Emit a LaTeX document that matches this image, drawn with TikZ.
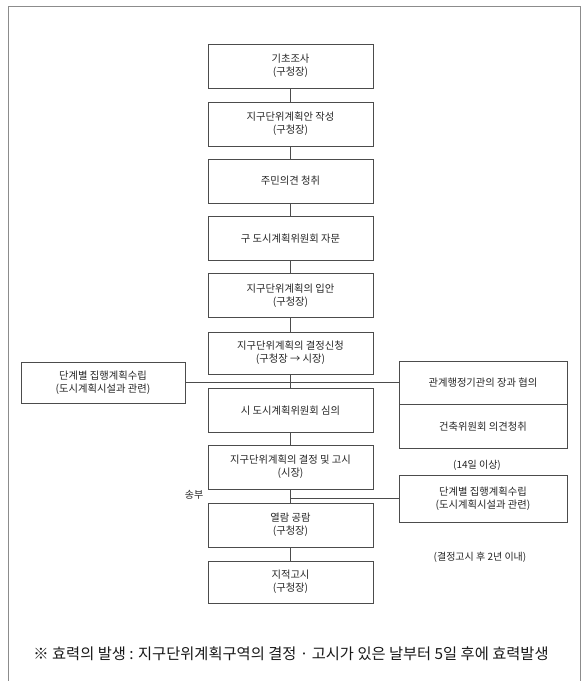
\documentclass[tikz,border=0pt]{standalone}
\usepackage{fontspec}
\setmainfont{Noto Sans CJK KR}
\begin{document}
\begin{tikzpicture}[x=1pt,y=-1pt,
  ln/.style={draw=black!70,line width=0.7pt},
  bx/.style={ln,rectangle,inner sep=0pt,align=center,text=black!85,
    font=\fontsize{10.3}{13}\selectfont},
  mainbox/.style={bx,minimum width=165pt,minimum height=44pt},
  sidebox/.style={bx,minimum width=168pt,minimum height=44pt},
  lbl/.style={text=black!85,inner sep=0pt,font=\fontsize{10}{12}\selectfont}]
\useasboundingbox (0,0) rectangle (586,681);
\fill[white] (0,0) rectangle (586,681);
% frame
\draw[draw=black!45,line width=0.8pt] (8,681) -- (8,6) -- (580,6) -- (580,681);
% main column
\node[mainbox] (b1) at (290.5,66) {기초조사\\(구청장)};
\node[mainbox] (b2) at (290.5,124) {지구단위계획안 작성\\(구청장)};
\node[mainbox] (b3) at (290.5,181) {주민의견 청취};
\node[mainbox] (b4) at (290.5,238.5) {구 도시계획위원회 자문};
\node[mainbox] (b5) at (290.5,295.5) {지구단위계획의 입안\\(구청장)};
\node[mainbox,minimum height=42pt] (b6) at (290.5,353) {지구단위계획의 결정신청\\(구청장 → 시장)};
\node[mainbox] (b7) at (290.5,410.5) {시 도시계획위원회 심의};
\node[mainbox] (b8) at (290.5,467) {지구단위계획의 결정 및 고시\\(시장)};
\node[mainbox] (b9) at (290.5,525) {열람 공람\\(구청장)};
\node[mainbox,minimum height=42pt] (b10) at (290.5,582) {지적고시\\(구청장)};
\foreach \a/\b in {b1/b2,b2/b3,b3/b4,b4/b5,b5/b6,b6/b7,b7/b8,b8/b9,b9/b10}
  \draw[ln] (\a.south) -- (\b.north);
% side boxes
\node[bx,minimum width=164pt,minimum height=41pt] (lb) at (103,382.5) {단계별 집행계획수립\\(도시계획시설과 관련)};
\node[sidebox,minimum height=43pt] (ra) at (483,382.5) {관계행정기관의 장과 협의};
\node[sidebox,minimum height=44pt,anchor=north] (rb) at (ra.south) {건축위원회 의견청취};
\node[sidebox,minimum height=47pt] (rc) at (483,498.5) {단계별 집행계획수립\\(도시계획시설과 관련)};
% connectors
\coordinate (j2) at (290.5,498.5);
\draw[ln] (lb.east) -- (ra.west);
\draw[ln] (j2) -- (rc.west);
% labels
\node[lbl] (sb) at (194,495) {송부};
\node[lbl] (d14) at (477,465) {(14일 이상)};
\node[lbl] (d2y) at (480,557) {(결정고시 후 2년 이내)};
\node[text=black!90,inner sep=0pt,font=\fontsize{15.3}{18}\selectfont] (note) at (291,654)
  {※ 효력의 발생 : 지구단위계획구역의 결정 · 고시가 있은 날부터 5일 후에 효력발생};
\end{tikzpicture}
\end{document}
